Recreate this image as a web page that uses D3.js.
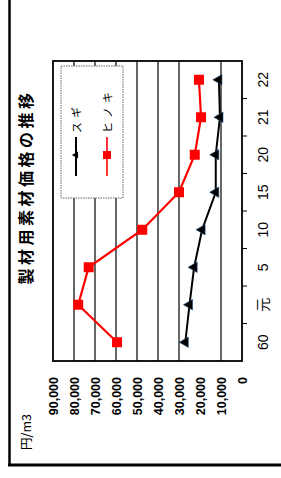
<!DOCTYPE html>
<html>
<head>
<meta charset="utf-8">
<script src="https://cdn.jsdelivr.net/npm/d3@7"></script>
<style>
  body { margin: 0; background: #fff; }
  svg { display: block; }
</style>
</head>
<body>
<div id="wrap"></div>
<script>
var width = 281;
var height = 478;

// 年 (昭和60 〜 平成22)
var years = ["60", "元", "5", "10", "15", "20", "21", "22"];
var sugi = [27000, 25000, 22800, 19000, 12500, 12500, 10500, 11000];
var hinoki = [59500, 78000, 73000, 47500, 30000, 22500, 19500, 20500];
var valueTicks = [0, 10000, 20000, 30000, 40000, 50000, 60000, 70000, 80000, 90000];
var gridTicks = [10000, 30000, 40000, 50000, 60000, 70000, 80000];
var seriesNames = ["スギ", "ヒノキ"];

var plot = { left: 53, right: 242, top: 61, bottom: 361 };

var svg = d3.select('#wrap').append('svg')
  .attr('width', width)
  .attr('height', height);

// outer frame
svg.append('line')
  .attr('x1', 9.5).attr('y1', 0).attr('x2', 9.5).attr('y2', 466)
  .attr('stroke', '#000').attr('stroke-width', 2.5);
svg.append('line')
  .attr('x1', 8).attr('y1', 465).attr('x2', 281).attr('y2', 465)
  .attr('stroke', '#000').attr('stroke-width', 3);

// value -> x (reversed), category -> y (from bottom)
var x = d3.scaleLinear().domain([0, 90000]).range([plot.right, plot.left]);
var y = d3.scaleBand().domain(years).range([plot.bottom, plot.top]);
var cy = d => y(d) + y.bandwidth() / 2;

// grid
svg.append('g')
  .selectAll('line')
  .data(gridTicks)
  .join('line')
    .attr('x1', d => x(d)).attr('x2', d => x(d))
    .attr('y1', plot.top).attr('y2', plot.bottom)
    .attr('stroke', '#000').attr('stroke-width', 1.2);

// category ticks
svg.append('g')
  .selectAll('line')
  .data(years.slice(1))
  .join('line')
    .attr('x1', plot.right).attr('x2', plot.right + 5)
    .attr('y1', d => y(d) + y.bandwidth()).attr('y2', d => y(d) + y.bandwidth())
    .attr('stroke', '#000').attr('stroke-width', 1);

// value labels
svg.append('g')
  .selectAll('text')
  .data(valueTicks)
  .join('text')
    .attr('transform', d => `translate(${x(d) + 4.5},377) rotate(-90)`)
    .attr('text-anchor', 'end')
    .attr('font-family', 'Liberation Sans, Arial, sans-serif')
    .attr('font-size', 12.5)
    .attr('font-weight', 'bold')
    .text(d => d3.format(',')(d));

// category labels
svg.append('g')
  .selectAll('text')
  .data(years)
  .join('text')
    .attr('transform', d => `translate(268,${cy(d)}) rotate(-90)`)
    .attr('text-anchor', 'middle')
    .attr('font-family', 'Liberation Sans, "Noto Sans CJK JP", sans-serif')
    .attr('font-size', 14)
    .text(d => d);

// series lines
var line = d3.line()
  .x(d => x(d.v))
  .y(d => cy(d.c));

var sugiData = years.map((c, i) => ({ c: c, v: sugi[i] }));
var hinokiData = years.map((c, i) => ({ c: c, v: hinoki[i] }));

svg.append('path')
  .datum(hinokiData)
  .attr('d', line)
  .attr('fill', 'none')
  .attr('stroke', '#ff0000')
  .attr('stroke-width', 2.2);

svg.append('g')
  .selectAll('rect')
  .data(hinokiData)
  .join('rect')
    .attr('x', d => x(d.v) - 5)
    .attr('y', d => cy(d.c) - 5)
    .attr('width', 10).attr('height', 10)
    .attr('fill', '#ff0000');

svg.append('path')
  .datum(sugiData)
  .attr('d', line)
  .attr('fill', 'none')
  .attr('stroke', '#000')
  .attr('stroke-width', 2);

var tri = d3.symbol().type(d3.symbolTriangle).size(48);
svg.append('g')
  .selectAll('path')
  .data(sugiData)
  .join('path')
    .attr('d', tri)
    .attr('transform', d => `translate(${x(d.v)},${cy(d.c)}) rotate(-90)`)
    .attr('fill', '#000')
    .attr('stroke', '#27507f')
    .attr('stroke-width', 0.6);

// plot border
svg.append('rect')
  .attr('x', plot.left).attr('y', plot.top)
  .attr('width', plot.right - plot.left).attr('height', plot.bottom - plot.top)
  .attr('fill', 'none')
  .attr('stroke', '#000').attr('stroke-width', 1.8);

// legend
var legend = svg.append('g');
legend.append('rect')
  .attr('x', 61).attr('y', 66).attr('width', 62).attr('height', 132)
  .attr('fill', '#fff')
  .attr('stroke', '#666').attr('stroke-width', 1)
  .attr('stroke-dasharray', '1.5,1');

var legX = [76, 107];
// スギ
legend.append('line')
  .attr('x1', legX[0]).attr('x2', legX[0]).attr('y1', 137).attr('y2', 176)
  .attr('stroke', '#000').attr('stroke-width', 2);
legend.append('path')
  .attr('d', d3.symbol().type(d3.symbolTriangle).size(22))
  .attr('transform', `translate(${legX[0]},155) rotate(-90)`)
  .attr('fill', '#000');
// ヒノキ
legend.append('line')
  .attr('x1', legX[1]).attr('x2', legX[1]).attr('y1', 137).attr('y2', 176)
  .attr('stroke', '#ff0000').attr('stroke-width', 1.6);
legend.append('rect')
  .attr('x', legX[1] - 4).attr('y', 151).attr('width', 8).attr('height', 8)
  .attr('fill', '#ff0000');

legend.selectAll('text')
  .data(seriesNames)
  .join('text')
    .attr('transform', (d, i) => `translate(${legX[i] + 4.5},133) rotate(-90)`)
    .attr('font-family', '"Noto Sans CJK JP", sans-serif')
    .attr('font-size', 11)
    .attr('letter-spacing', 4)
    .text(d => d);

// title
svg.append('text')
  .attr('transform', 'translate(32,187) rotate(-90)')
  .attr('text-anchor', 'middle')
  .attr('font-family', '"Noto Sans CJK JP", sans-serif')
  .attr('font-size', 16)
  .attr('font-weight', 'bold')
  .attr('letter-spacing', 3.5)
  .text('製材用素材価格の推移');

// unit
svg.append('text')
  .attr('transform', 'translate(31,450) rotate(-90)')
  .attr('font-family', '"Noto Sans CJK JP", sans-serif')
  .attr('font-size', 12.5)
  .text('円/m3');
</script>
</body>
</html>
